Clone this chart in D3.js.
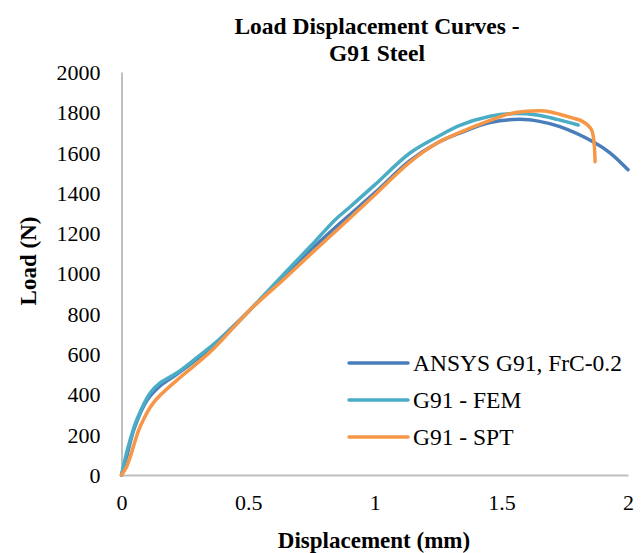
<!DOCTYPE html>
<html>
<head>
<meta charset="utf-8">
<script src="https://cdn.jsdelivr.net/npm/d3@7"></script>
<style>
  body { margin:0; background:#fff; }
  svg text { font-family: "Liberation Serif", "Times New Roman", serif; fill:#000; }
</style>
</head>
<body>
<svg width="644" height="553"></svg>
<script>
// displacement (mm), load (N)
const ansysX = [0,0.02,0.05,0.1,0.15,0.218,0.35,0.507,0.638,0.75,0.864,1.0,1.139,1.25,1.336,1.455,1.574,1.65,1.731,1.862,1.93,2.0];
const ansysY = [0,90,230,370,440,500,630,819,985,1120,1250,1400,1560,1650,1697,1749,1765,1755,1729,1654,1598,1515];

const femX = [0,0.02,0.034,0.06,0.113,0.15,0.218,0.3,0.35,0.43,0.507,0.638,0.75,0.843,0.902,1.0,1.139,1.25,1.336,1.455,1.534,1.64,1.72,1.803];
const femY = [0,110,174,273,407,455,506,585,635,720,819,993,1140,1266,1330,1440,1598,1680,1735,1780,1793,1787,1765,1737];

const sptX = [0,0.02,0.034,0.073,0.125,0.219,0.35,0.507,0.638,0.75,0.864,1.0,1.139,1.25,1.336,1.455,1.534,1.6,1.67,1.73,1.78,1.82,1.855,1.865,1.87];
const sptY = [0,40,89,238,357,471,610,819,968,1100,1231,1390,1553,1650,1700,1760,1793,1805,1807,1790,1772,1755,1715,1660,1555];

const seriesNames = ["ANSYS G91, FrC-0.2","G91 - FEM","G91 - SPT"];
const seriesColors = ["#4a7ebb","#4bacc6","#f79646"];
const xTicks = [0,0.5,1,1.5,2];
const yTicks = [0,200,400,600,800,1000,1200,1400,1600,1800,2000];

const series = [
  {name:seriesNames[0], color:seriesColors[0], pts:ansysX.map((x,i)=>[x,ansysY[i]])},
  {name:seriesNames[1], color:seriesColors[1], pts:femX.map((x,i)=>[x,femY[i]])},
  {name:seriesNames[2], color:seriesColors[2], pts:sptX.map((x,i)=>[x,sptY[i]])}
];

const svg = d3.select("svg");
const x = d3.scaleLinear().domain([0,2]).range([121.5,628]);
const y = d3.scaleLinear().domain([0,2000]).range([475,72]);

// axes
const xAxis = svg.append("g")
  .attr("transform","translate(0,475)")
  .call(d3.axisBottom(x).tickValues(xTicks).tickSize(0).tickPadding(19).tickFormat(d3.format("")));
const yAxis = svg.append("g")
  .attr("transform","translate(121.5,0)")
  .call(d3.axisLeft(y).tickValues(yTicks).tickSize(0).tickPadding(21).tickFormat(d3.format("")));
[xAxis,yAxis].forEach(a=>{
  a.select(".domain").attr("stroke","#bfbfbf").attr("stroke-width",2);
  a.selectAll("text").style("font-family","'Liberation Serif', serif").style("font-size","22px").attr("fill","#000");
});
yAxis.selectAll("text").attr("dy","0.34em");

// lines
const line = d3.line().x(d=>x(d[0])).y(d=>y(d[1])).curve(d3.curveCatmullRom.alpha(0.5));
svg.append("g").selectAll("path")
  .data(series)
  .join("path")
  .attr("d",d=>line(d.pts))
  .attr("fill","none")
  .attr("stroke",d=>d.color)
  .attr("stroke-width",3.5)
  .attr("stroke-linecap","round")
  .attr("stroke-linejoin","round");

// title
svg.append("text").attr("x",377).attr("y",34).attr("text-anchor","middle")
  .style("font-size","23.5px").style("font-weight","bold").text("Load Displacement Curves -");
svg.append("text").attr("x",377).attr("y",61).attr("text-anchor","middle")
  .style("font-size","23.5px").style("font-weight","bold").text("G91 Steel");

// axis titles
svg.append("text").attr("x",374).attr("y",548).attr("text-anchor","middle")
  .style("font-size","23px").style("font-weight","bold").text("Displacement (mm)");
svg.append("text").attr("transform","translate(36,261) rotate(-90)").attr("text-anchor","middle")
  .style("font-size","23px").style("font-weight","bold").text("Load (N)");

// legend
const legend = svg.append("g").selectAll("g")
  .data(series)
  .join("g")
  .attr("transform",(d,i)=>`translate(349,${363+i*37})`);
legend.append("line").attr("x1",0).attr("x2",59).attr("y1",0).attr("y2",0)
  .attr("stroke",d=>d.color).attr("stroke-width",3.5).attr("stroke-linecap","round");
legend.append("text").attr("x",64).attr("y",0).attr("dy","0.33em")
  .style("font-size","23.5px").text(d=>d.name);
</script>
</body>
</html>
